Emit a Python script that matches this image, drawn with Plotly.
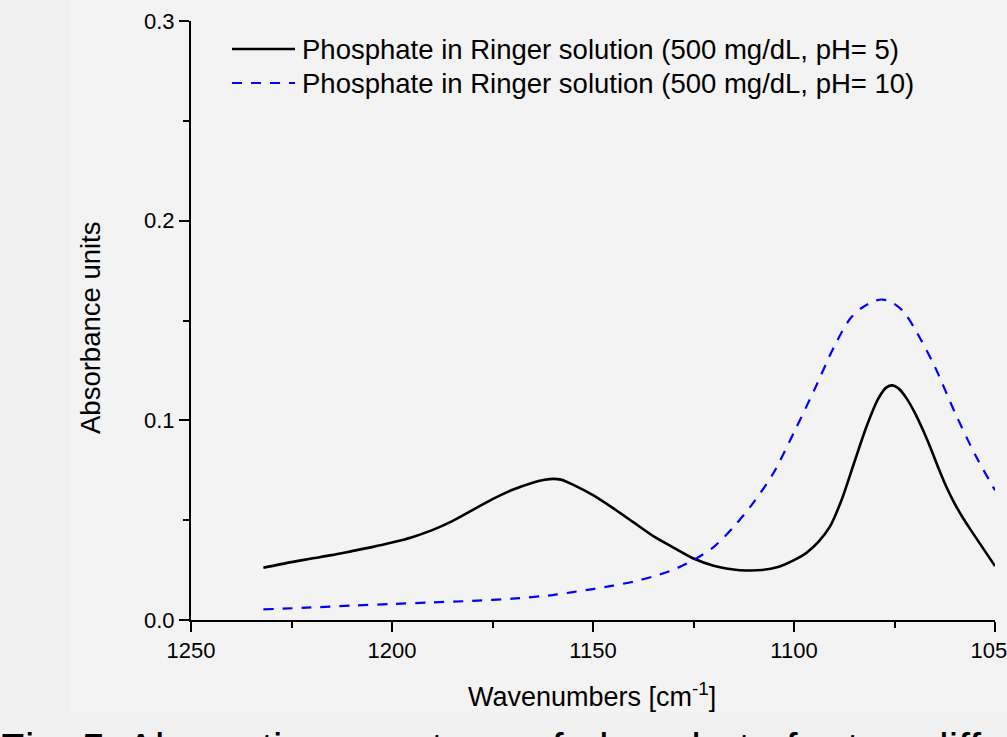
import plotly.graph_objects as go

# ---------------- data ----------------
wn_ph5 = [1232, 1225, 1220, 1215, 1210, 1205, 1200, 1195, 1190, 1185, 1180, 1175, 1170,
          1165, 1162, 1160, 1158, 1155, 1150, 1145, 1140, 1135, 1130, 1125, 1120, 1115,
          1112, 1108, 1104, 1100, 1097, 1094, 1091, 1088, 1085, 1082, 1079, 1077, 1075.5,
          1074, 1072, 1070, 1068, 1066, 1064, 1062, 1060, 1058, 1056, 1054, 1052, 1050]
abs_ph5 = [0.0262, 0.0290, 0.0308, 0.0325, 0.0345, 0.0365, 0.0388, 0.0415, 0.0450, 0.0495,
           0.0550, 0.0605, 0.0652, 0.0688, 0.0702, 0.0707, 0.0703, 0.0678, 0.0625, 0.0560,
           0.0490, 0.0420, 0.0363, 0.0308, 0.0272, 0.0253, 0.0248, 0.0250, 0.0265, 0.0300,
           0.0335, 0.0390, 0.0470, 0.0610, 0.0790, 0.0967, 0.1110, 0.1165, 0.1175, 0.1160,
           0.1110, 0.1040, 0.0955, 0.0860, 0.0757, 0.0662, 0.0582, 0.0512, 0.0450, 0.0390,
           0.0330, 0.0270]

wn_ph10 = [1232, 1220, 1210, 1200, 1190, 1180, 1170, 1160, 1155, 1150, 1145, 1140, 1135,
           1130, 1125, 1120, 1115, 1110, 1105, 1100, 1095, 1090, 1086, 1083, 1080, 1078,
           1076, 1073, 1070, 1065, 1060, 1055, 1050]
abs_ph10 = [0.0053, 0.0063, 0.0072, 0.0080, 0.0088, 0.0096, 0.0107, 0.0125, 0.0140, 0.0155,
            0.0172, 0.0192, 0.0218, 0.0252, 0.0300, 0.0365, 0.0467, 0.0590, 0.0740, 0.0940,
            0.1150, 0.1370, 0.1510, 0.1565, 0.1598, 0.1605, 0.1595, 0.1550, 0.1460, 0.1270,
            0.1040, 0.0830, 0.0650]

series_names = ["Phosphate in Ringer solution (500 mg/dL, pH= 5)",
                "Phosphate in Ringer solution (500 mg/dL, pH= 10)"]
x_title = "Wavenumbers [cm<sup>-1</sup>]"
y_title = "Absorbance units"
caption = "Fig. 5: Absorption spectrum of phosphate for two different pH values"

FONT = "Liberation Sans, Arial, Helvetica, sans-serif"

# pixel helpers for layout decoration (plot area: x 191..995, y 21..620)
L, R, T, B = 191, 995, 21, 620
def px_x(p):
    return (p - L) / (R - L)
def px_y(p):
    return (B - p) / (B - T)

fig = go.Figure()
fig.add_trace(go.Scatter(x=wn_ph5, y=abs_ph5, mode="lines", name=series_names[0],
                         line=dict(color="#000000", width=2.6, shape="spline", smoothing=0.8)))
fig.add_trace(go.Scatter(x=wn_ph10, y=abs_ph10, mode="lines", name=series_names[1],
                         line=dict(color="#0000ff", width=2.2, shape="spline", smoothing=0.8,
                                   dash="10px,9px")))

fig.update_layout(
    width=1007, height=737,
    margin=dict(l=L, r=1007 - R, t=T, b=737 - B, pad=0),
    paper_bgcolor="#f0f0f0",
    plot_bgcolor="rgba(0,0,0,0)",
    showlegend=False,
    font=dict(family=FONT, color="#000000"),
)

fig.update_xaxes(
    range=[1250, 1050], tickmode="linear", tick0=1250, dtick=50,
    ticks="outside", ticklen=10, tickwidth=2, tickcolor="#000000",
    showline=True, linewidth=2, linecolor="#000000",
    showgrid=False, zeroline=False, automargin=False, ticklabeloverflow="allow",
    minor=dict(ticks="outside", ticklen=6, tickwidth=2, tickcolor="#000000",
               tickmode="linear", tick0=1250, dtick=25, showgrid=False),
    tickfont=dict(size=22, family=FONT),
)
fig.update_yaxes(
    range=[0, 0.3], tickmode="linear", tick0=0, dtick=0.1, tickformat=".1f",
    ticks="outside", ticklen=10, tickwidth=2, tickcolor="#000000",
    showline=True, linewidth=2, linecolor="#000000",
    showgrid=False, zeroline=False, automargin=False,
    minor=dict(ticks="outside", ticklen=6, tickwidth=2, tickcolor="#000000",
               tickmode="linear", tick0=0, dtick=0.05, showgrid=False),
    tickfont=dict(size=22, family=FONT),
)

shapes = [
    # lighter chart panel behind the plot
    dict(type="rect", xref="paper", yref="paper", layer="below",
         x0=px_x(70), x1=px_x(1010), y0=px_y(713), y1=px_y(-5),
         fillcolor="#f3f3f3", line=dict(width=0)),
    # legend samples
    dict(type="line", xref="paper", yref="paper", x0=px_x(232), x1=px_x(295),
         y0=px_y(49), y1=px_y(49), line=dict(color="#000000", width=2.6)),
    dict(type="line", xref="paper", yref="paper", x0=px_x(232), x1=px_x(295),
         y0=px_y(83), y1=px_y(83), line=dict(color="#0000ff", width=2.2, dash="10px,9px")),
]
annotations = [
    dict(xref="paper", yref="paper", x=px_x(300), y=px_y(49), xanchor="left", yanchor="middle",
         text=series_names[0], showarrow=False, font=dict(size=27.5, family=FONT, color="#000000")),
    dict(xref="paper", yref="paper", x=px_x(300), y=px_y(83), xanchor="left", yanchor="middle",
         text=series_names[1], showarrow=False, font=dict(size=27.5, family=FONT, color="#000000")),
    # axis titles
    dict(xref="paper", yref="paper", x=px_x(592), y=px_y(695), xanchor="center", yanchor="middle",
         text=x_title, showarrow=False, font=dict(size=27, family=FONT, color="#000000")),
    dict(xref="paper", yref="paper", x=px_x(91), y=px_y(328), xanchor="center", yanchor="middle",
         text=y_title, textangle=-90, showarrow=False,
         font=dict(size=27.5, family=FONT, color="#000000")),
    # figure caption (cut by the bottom edge in the reference)
    dict(xref="paper", yref="paper", x=px_x(-3), y=px_y(748), xanchor="left", yanchor="middle",
         text=caption, showarrow=False, font=dict(size=42.5, family=FONT, color="#000000")),
]
fig.update_layout(shapes=shapes, annotations=annotations)

fig.write_html("out.html")
